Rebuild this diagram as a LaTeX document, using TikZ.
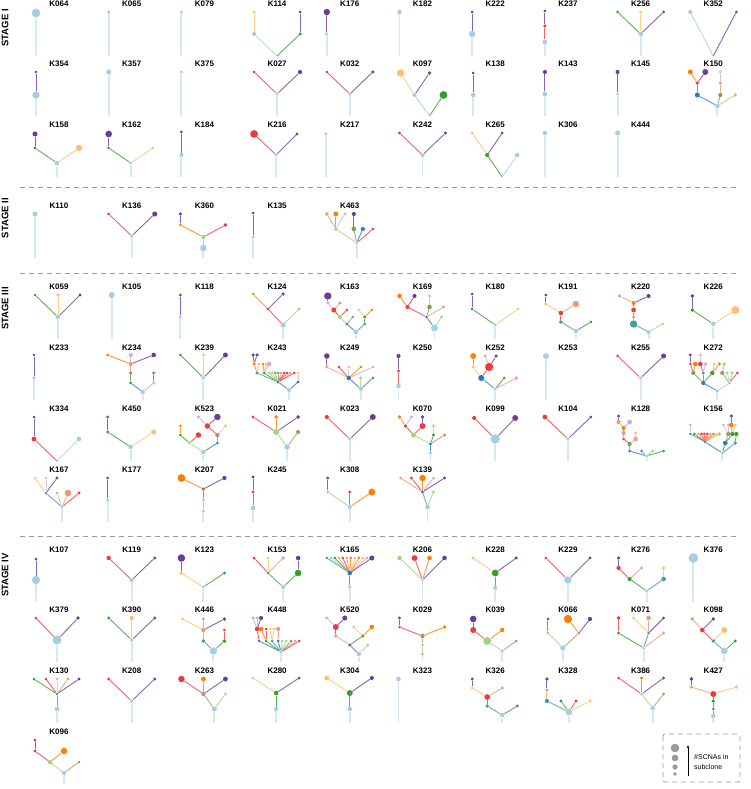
\documentclass[tikz,border=0pt]{standalone}
\usepackage{fontspec}
\setmainfont{Liberation Sans}
\usetikzlibrary{arrows.meta}

\definecolor{lb}{HTML}{A6CEE3}
\definecolor{db}{HTML}{2B7BBA}
\definecolor{lg}{HTML}{9FD67C}
\definecolor{gr}{HTML}{33A02C}
\definecolor{pk}{HTML}{F79A98}
\definecolor{rd}{HTML}{EC3B3E}
\definecolor{lo}{HTML}{FDBF6F}
\definecolor{or}{HTML}{FF7F00}
\definecolor{lp}{HTML}{C7ADD3}
\definecolor{pu}{HTML}{6A3D9A}
\definecolor{te}{HTML}{4A98A2}
\definecolor{ta}{HTML}{A8966A}
\definecolor{sa}{HTML}{E39C78}
\definecolor{ol}{HTML}{7E9A58}
\definecolor{mv}{HTML}{D6B6C4}
\definecolor{sepgray}{HTML}{9A9A9A}

\pgfdeclarelayer{edges}
\pgfsetlayers{edges,main}

\tikzset{
  lab/.style={font=\bfseries\fontsize{8}{9}\selectfont, inner sep=0pt},
  stagelab/.style={font=\bfseries\fontsize{9.5}{10}\selectfont, rotate=90, anchor=east, inner sep=0pt},
  clone/.style={circle, fill=#1, draw=none, inner sep=0pt},
  link/.style={draw=#1, line width=0.9pt, draw opacity=0.8},
  trunk/.style={draw=#1, line width=1.9pt, draw opacity=0.45},
  sep/.style={draw=sepgray, line width=0.8pt, dash pattern=on 5pt off 4pt},
  legtext/.style={font=\fontsize{7}{10}\selectfont, align=left, inner sep=0pt, anchor=west}
}

\def\gname{g}
% one panel: label, column, label y, germline x, clones name/x/y/colour/radius/parent
\newcommand{\subtree}[5]{%
  \begin{scope}[shift={({59+72.7*#2},#3)}]
    \node[lab] (#1) at (0,0) {#1};
    \coordinate (#1g) at (#4,52);
    \coordinate (#1o) at (#4,52);
    \foreach \nm/\px/\py/\cl/\rr/\up in {#5}{%
      \node[clone=\cl, minimum size={2.3*\rr}] (#1\nm) at (\px,\py) {};}
    \begin{pgfonlayer}{edges}
      \foreach \nm/\px/\py/\cl/\rr/\up in {#5}{%
        \edef\tmpup{\up}%
        \ifx\tmpup\gname \draw[trunk=\cl] (#1\up) -- (#1\nm);%
        \else \draw[link=\cl] (#1\up) -- (#1\nm);\fi}
    \end{pgfonlayer}
  \end{scope}}

\begin{document}
\begin{tikzpicture}[x=1pt,y=-1pt]
\useasboundingbox (0,0) rectangle (750,789);

% stage titles and separators
\node[stagelab] (stageI) at (5,9) {STAGE I};
\node[stagelab] (stageII) at (5,198) {STAGE II};
\node[stagelab] (stageIII) at (5,287) {STAGE III};
\node[stagelab] (stageIV) at (5,553) {STAGE IV};
\coordinate (sepAl) at (20,187); \coordinate (sepAr) at (737,187);
\coordinate (sepBl) at (20,273); \coordinate (sepBr) at (737,273);
\coordinate (sepCl) at (20,536); \coordinate (sepCr) at (737,536);
\draw[sep] (sepAl) -- (sepAr);
\draw[sep] (sepBl) -- (sepBr);
\draw[sep] (sepCl) -- (sepCr);

% stage I
\subtree{K064}{0}{4}{-23}{a/-23/9/lb/3.8/g}
\subtree{K065}{1}{4}{-23}{a/-23/8/lb/1.6/g}
\subtree{K079}{2}{4}{-23}{a/-23/8/lb/1.6/g}
\subtree{K114}{3}{4}{0}{a/-23/30/lb/1.8/o,b/-23/8/lo/1.3/a,c/23/30/gr/1.5/o,d/23/8/pu/1.3/c}
\subtree{K176}{4}{4}{-23}{a/-23/30/lb/1.6/g,b/-23/8/pu/2.8/a}
\subtree{K182}{5}{4}{-23}{a/-23/8/lb/2/g}
\subtree{K222}{6}{4}{-23}{a/-23/30/lb/2.8/g,b/-23/8/pu/1.3/a}
\subtree{K237}{7}{4}{-23}{a/-23/38/lb/2/g,b/-23/22/rd/1.5/a,c/-23/7/pu/1.3/b}
\subtree{K256}{8}{4}{0}{a/0/30/lb/2/g,b/-23/8/gr/1.3/a,c/0/8/lo/1.3/a,d/23/8/pu/1.3/a}
\subtree{K352}{9}{4}{0}{a/-23/8/lb/1.8/o,b/23/8/pu/1.3/o}
\subtree{K354}{0}{64}{-23}{a/-23/31/lb/3.2/g,b/-23/8/pu/1.3/a}
\subtree{K357}{1}{64}{-23}{a/-23/8/lb/2.2/g}
\subtree{K375}{2}{64}{-23}{a/-23/8/lb/1.4/g}
\subtree{K027}{3}{64}{0}{a/0/30/lb/1.6/g,b/-23/8/rd/1.3/a,c/23/8/pu/1.8/a}
\subtree{K032}{4}{64}{0}{a/0/30/lb/1.6/g,b/-23/8/rd/1.3/a,c/23/8/pu/1.5/a}
\subtree{K097}{5}{64}{7}{a/-8/31/lb/1.8/o,b/-22/9/lo/3.2/a,c/7/9/pu/1.6/a,d/21/31/gr/3.4/o}
\subtree{K138}{6}{64}{-22}{a/-22/31/lb/2/g,b/-22/9/pu/1.3/a}
\subtree{K143}{7}{64}{-23}{a/-23/30/lb/2/g,b/-23/8/pu/1.8/a}
\subtree{K145}{8}{64}{-23}{a/-23/30/lb/1.4/g,b/-23/8/pu/1.8/a}
\subtree{K150}{9}{64}{4}{a/4/42/lb/2/g,b/-16/31/db/2.2/a,c/-16/19/rd/1.6/b,d/-23/8/or/2.2/c,e/-8/8/pu/2.6/c,f/7/31/ol/1.8/a,h/7/19/sa/1.5/f,i/7/8/mv/1.3/h,j/22/31/lg/1.6/a}
\subtree{K158}{0}{125}{-2}{a/-2/38/lb/2/g,b/-24/23/gr/1.4/a,c/-24/9/pu/2.2/b,d/20/23/lo/2.8/a}
\subtree{K162}{1}{125}{-1}{a/-1/38/lb/1.5/g,b/-23/23/gr/1.3/a,c/-23/9/pu/2.9/b,d/21/23/lo/1.3/a}
\subtree{K184}{2}{125}{-23}{a/-23/30/lb/1.8/g,b/-23/7/pu/1.3/a}
\subtree{K216}{3}{125}{-1}{a/-1/30/lb/1.5/g,b/-23/9/rd/3.4/a,c/20/9/pu/1.4/a}
\subtree{K217}{4}{125}{-24}{a/-24/9/lb/1.5/g}
\subtree{K242}{5}{125}{0}{a/0/30/lb/1.8/g,b/-23/8/rd/1.4/a,c/23/8/pu/1.5/a}
\subtree{K265}{6}{125}{7}{a/-8/30/gr/1.8/o,b/-23/8/lo/1.3/a,c/7/8/pu/1.3/a,d/22/30/lb/2/o}
\subtree{K306}{7}{125}{-23}{a/-23/8/lb/2/g}
\subtree{K444}{8}{125}{-23}{a/-23/8/lb/2.2/g}

% stage II
\subtree{K110}{0}{206}{-24}{a/-24/8/lb/2.2/g}
\subtree{K136}{1}{206}{0}{a/0/30/lb/1.6/g,b/-23/8/rd/1.3/a,c/23/8/pu/2.2/a}
\subtree{K360}{2}{206}{-1}{a/-1/42/lb/2.8/g,b/-1/31/lg/1.8/a,c/-24/19/or/1.3/b,d/-24/8/pu/1.6/c,e/21/19/rd/1.7/b}
\subtree{K135}{3}{206}{-24}{a/-24/31/lb/1.6/g,b/-24/7/pu/1.3/a}
\subtree{K463}{4}{206}{7}{a/7/37/lb/1.4/g,b/-14/23/lg/1.7/a,c/-23/8/sa/1.7/b,d/-14/8/or/2.2/b,e/-5/8/mv/1.5/b,f/4/23/ol/2/a,h/4/8/pu/1.8/f,i/13/23/db/1.8/a,j/23/23/rd/1.3/a}

% stage III
\subtree{K059}{0}{287}{-1}{a/-1/30/lb/2/g,b/-24/8/gr/1.3/a,c/-1/8/lo/1.7/a,d/21/8/pu/1.4/a}
\subtree{K105}{1}{287}{-20}{a/-20/8/lb/2.6/g}
\subtree{K118}{2}{287}{-24}{a/-24/30/lb/1.6/g,b/-24/8/pu/1.3/a}
\subtree{K124}{3}{287}{6}{a/6/38/lb/2.2/g,b/-9/22/rd/1.4/a,c/-24/7/or/1.3/b,d/6/7/pu/1.6/b,e/22/22/lg/1.4/a}
\subtree{K163}{4}{287}{6}{a/6/45/lb/2/g,b/-3/37/db/1.3/a,c/15/37/te/1.4/a,d/-10/30/lg/1.8/b,e/3/30/ta/1.3/b,f/15/30/gr/1.4/c,h/-16/23/rd/2.2/d,i/-10/16/sa/1.5/h,j/-3/23/rd/1.3/d,k/-22/16/lp/1.5/h,l/-22/9/pu/3.2/k,m/9/23/lo/1.3/f,n/22/23/or/1.3/f}
\subtree{K169}{5}{287}{12}{a/12/41/lb/3/g,b/4/30/db/1.3/a,c/19/30/lg/1.4/a,d/-15/20/rd/1.8/b,e/7/20/ol/2/b,f/21/20/sa/1.5/b,h/-23/9/or/2/d,i/-8/9/pu/1.8/d,j/7/9/mv/1.4/e}
\subtree{K180}{6}{287}{0}{a/0/38/lb/1.5/g,b/-23/22/gr/1.3/a,c/-23/7/pu/1.3/b,d/23/22/lo/1.3/a}
\subtree{K191}{7}{287}{8}{a/8/44/lb/2/g,b/-7/35/te/1.7/a,c/23/35/gr/1.3/a,d/-7/26/rd/2/b,e/-22/17/lo/1.5/d,f/8/17/sa/2.8/d,h/-22/8/pu/1.3/e}
\subtree{K220}{8}{287}{8}{a/8/45/lb/1.8/g,b/-7/37/te/3.2/a,c/22/37/lg/1.3/a,d/-7/30/sa/1.5/b,e/-7/23/rd/2.1/d,f/-7/16/or/1.8/e,h/-21/9/sa/1.6/f,i/8/9/pu/1.8/f}
\subtree{K226}{9}{287}{0}{a/0/37/lb/2/g,b/-21/23/gr/1.7/a,c/-21/9/pu/1.7/b,d/22/23/lo/3.5/a}
\subtree{K233}{0}{348}{-25}{a/-25/30/lb/1.6/g,b/-25/7/pu/1.3/a}
\subtree{K234}{1}{348}{11}{a/11/44/lb/2/g,b/-1/35/db/1.3/a,c/-1/25/ol/1.7/b,d/-1/16/sa/1.8/c,e/-24/7/or/1.4/d,f/-1/7/mv/1.9/d,h/22/7/pu/2/d,i/22/35/lg/1.4/a,j/22/25/rd/1.3/i}
\subtree{K239}{2}{348}{-1}{a/-1/30/lb/1.6/g,b/-24/7/gr/1.3/a,c/-1/7/lo/1.4/a,d/21/7/pu/2.2/a}
\subtree{K243}{3}{348}{12}{a/12/42/lb/1.8/g,b/1/34/db/1.4/a,c/21/34/db/1.4/a,d/-20/25/te/1.6/b,e/-13/25/gr/1.3/b,f/-8/25/lg/1.3/b,h/-5/25/lg/1.3/b,i/-2/25/ta/1.3/b,j/1/25/ol/1.3/b,k/4/25/sa/1.3/b,l/7/25/rd/1.3/b,m/10/25/rd/1.3/b,n/13/25/pk/1.3/b,p/17/25/rd/1.3/b,q/21/25/lo/1.3/c,r/-23/16/or/1.6/d,s/-18/16/lo/1.4/d,t/-14/16/or/1.3/e,u/-11/16/lo/1.3/e,v/-8/16/lp/2/e,w/-24/7/pu/1.6/r,y/-20/7/pu/1.6/r}
\subtree{K249}{4}{348}{11}{a/11/41/lb/1.8/g,b/-1/30/db/2/a,c/11/30/lg/1.4/a,d/23/30/gr/1.3/a,e/-23/19/pk/1.5/b,f/-11/19/rd/1.3/b,h/-1/19/lo/1.3/b,i/11/19/or/1.3/b,j/23/19/lp/1.3/b,k/-23/8/pu/2.4/e}
\subtree{K250}{5}{348}{-24}{a/-24/38/lb/2/g,b/-24/23/rd/1.5/a,c/-24/8/pu/1.8/b}
\subtree{K252}{6}{348}{0}{a/0/41/lb/1.5/g,b/-14/30/db/2.6/a,c/-22/19/lo/1.5/b,d/-22/8/or/2.6/c,e/-6/19/rd/3.6/b,f/-10/8/lp/1.5/e,h/1/8/pu/1.5/e,i/9/30/gr/1.3/a,j/21/30/pk/1.7/a}
\subtree{K253}{7}{348}{-22}{a/-22/8/lb/2.6/g}
\subtree{K255}{8}{348}{0}{a/0/30/lb/1.6/g,b/-23/8/rd/1.3/a,c/23/8/pu/2.2/a}
\subtree{K272}{9}{348}{4}{a/4/43/lb/1.6/g,b/-10/35/db/1.8/a,c/16/35/lb/1.5/a,d/-20/25/ol/1.8/b,e/-10/25/te/1.4/b,f/-1/25/gr/1.9/b,h/9/25/ta/1.9/c,i/14/25/lg/1.4/c,j/19/25/lg/1.4/c,k/24/25/rd/1.3/c,l/-23/16/rd/1.3/d,m/-18/16/or/2/d,n/-13/16/rd/2/e,p/-8/16/lp/1.7/e,q/1/16/lo/1.4/f,r/6/16/or/1.5/f,s/11/16/sa/1.4/h,t/-23/7/pu/1.4/l,u/-13/7/lp/1.3/n}
\subtree{K334}{0}{409}{-2}{a/-25/30/rd/2.1/o,b/-25/8/pu/1.3/a,c/20/30/lb/2/o}
\subtree{K450}{1}{409}{-1}{a/-1/38/lb/2/g,b/-24/23/gr/1.4/a,c/-24/8/pu/1.3/b,d/22/23/lo/2.2/a}
\subtree{K523}{2}{409}{-1}{a/-1/43/lb/2/g,b/-15/34/lg/1.3/a,c/-24/26/gr/1.3/b,d/-24/17/or/1.3/c,e/-6/26/rd/2.4/b,f/13/34/db/1.3/a,h/13/26/ta/1.9/f,i/3/17/rd/2.4/h,j/21/17/lo/1.4/h,k/-6/8/lp/1.5/i,l/13/8/pu/2.8/i}
\subtree{K021}{3}{409}{10}{a/10/38/lb/2.4/g,b/-1/23/lg/2.6/a,c/21/23/ta/1.8/a,d/-24/8/rd/1.4/b,e/-1/8/or/1.7/b,f/21/8/pu/1.7/b}
\subtree{K023}{4}{409}{0}{a/0/30/lb/1.6/g,b/-23/8/rd/1.8/a,c/23/8/pu/2.6/a}
\subtree{K070}{5}{409}{8}{a/8/44/lb/1.7/g,b/8/35/db/1.4/a,c/-9/26/lg/2.2/b,d/11/26/gr/1.4/b,e/22/26/ta/1.5/b,f/-17/17/rd/1.6/c,h/0/17/rd/2.6/c,i/11/17/lo/1.7/d,j/-23/8/or/1.6/f,k/-11/8/lp/1.4/f,l/0/8/pu/1.6/h}
\subtree{K099}{6}{409}{0}{a/0/30/lb/4/g,b/-21/9/rd/1.8/a,c/20/9/pu/2.6/a}
\subtree{K104}{7}{409}{0}{a/0/30/lb/1.6/g,b/-23/8/rd/2.1/a,c/23/8/pu/1.3/a}
\subtree{K128}{8}{409}{6}{a/6/47/lb/1.6/g,b/-11/42/db/1.3/a,c/1/42/te/1.3/a,d/12/42/lg/1.4/a,e/23/42/gr/1.3/a,f/-11/35/ol/1.8/b,h/-17/30/rd/1.3/f,i/-5/30/pk/2/f,j/-5/24/lo/1.4/i,k/-17/24/sa/1.8/h,l/-17/19/or/1.8/k,m/-22/13/sa/1.8/l,n/-11/13/lp/2.1/l,p/-22/7/pu/1.4/m}
\subtree{K156}{9}{409}{9}{a/9/44/lb/1.5/g,b/12/34/db/2/a,c/22/34/te/1.6/a,d/-8/33/db/1.2/a,e/-23/25/te/1.3/d,f/-19/25/gr/1.3/d,h/-15/25/pk/1.3/d,i/-12/25/rd/1.3/d,j/-9/25/rd/1.3/d,k/-6/25/rd/1.3/d,l/-3/25/pk/1.3/d,m/0/25/or/1.3/d,n/3/25/lo/1.3/d,p/6/25/lg/1.6/d,q/15/25/ta/1.9/b,r/19/25/gr/1.8/b,s/23/25/gr/1.8/c,t/-23/16/lp/1.3/e,u/10/16/mv/1.3/q,v/15/16/lp/1.3/q,w/18/16/or/2/r,y/22/16/lo/1.3/r,z/18/7/pu/1.5/w}
\subtree{K167}{0}{470}{3}{a/3/37/lb/1.5/g,b/-13/23/te/1.3/a,c/-2/23/lg/1.4/a,d/9/23/sa/2.9/a,e/20/23/rd/1.5/a,f/-24/8/lo/1.3/b,h/-13/8/mv/1.3/b,i/-2/8/pu/1.4/b}
\subtree{K177}{1}{470}{-24}{a/-24/30/lb/1.6/g,b/-24/8/pu/1.3/a}
\subtree{K207}{2}{470}{-1}{a/-1/41/lb/1.6/g,b/-1/30/lg/1.4/a,c/-1/19/rd/1.5/b,d/-23/8/or/3.4/c,e/20/8/pu/1.9/c}
\subtree{K245}{3}{470}{-24}{a/-24/38/lb/2.1/g,b/-24/22/rd/1.4/a,c/-24/7/pu/1.4/b}
\subtree{K308}{4}{470}{0}{a/0/37/lb/1.8/g,b/-22/22/lg/1.3/a,c/-22/8/pu/1.4/b,d/0/22/rd/1.4/a,e/22/22/or/3/a}
\subtree{K139}{5}{470}{5}{a/5/37/lb/2/g,b/0/22/te/1.6/a,c/11/22/lg/1.4/a,d/-22/8/sa/1.3/b,e/-11/8/rd/1.4/b,f/0/8/or/2.8/b,h/11/8/sa/1.3/b,i/22/8/pu/1.4/b}

% stage IV
\subtree{K107}{0}{550}{-23}{a/-23/30/lb/3.6/g,b/-23/9/pu/1.3/a}
\subtree{K119}{1}{550}{0}{a/0/30/lb/1.8/g,b/-23/8/rd/1.9/a,c/23/8/pu/1.4/a}
\subtree{K123}{2}{550}{-1}{a/-1/37/lb/1.5/g,b/-23/23/lo/1.7/a,c/-23/8/pu/3.3/b,d/20/23/gr/1.4/a}
\subtree{K153}{3}{550}{6}{a/6/37/lb/1.8/g,b/-9/23/te/1.3/a,c/21/23/gr/2.9/a,d/-23/8/rd/1.4/b,e/-9/8/lo/1.4/b,f/6/8/sa/1.5/b,h/21/8/pu/2/c}
\subtree{K165}{4}{550}{0}{a/0/37/lb/1.6/g,b/0/23/db/2/a,c/-23/8/te/1.3/b,d/-19/8/lg/1.3/b,e/-15/8/gr/1.3/b,f/-11/8/pk/1.3/b,h/-7/8/rd/1.3/b,i/-3/8/pk/1.3/b,j/1/8/or/1.3/b,k/5/8/lo/1.3/b,l/9/8/or/1.3/b,m/13/8/lo/1.3/b,n/17/8/lp/1.3/b,p/22/8/pu/2.2/b}
\subtree{K206}{5}{550}{0}{a/0/30/lb/1.5/g,b/-23/8/lg/2/a,c/-8/8/rd/2.5/a,d/7/8/or/2/a,e/22/8/pu/2/a}
\subtree{K228}{6}{550}{0}{a/0/38/lb/1.8/g,b/0/23/gr/3/a,c/-22/8/lo/1.5/b,d/21/8/pu/1.5/b}
\subtree{K229}{7}{550}{0}{a/0/30/lb/3.2/g,b/-22/8/rd/1.3/a,c/22/8/pu/1.4/a}
\subtree{K276}{8}{550}{6}{a/6/41/lb/1.5/g,b/-11/29/gr/1.8/a,c/-22/18/rd/1.9/b,d/-22/8/pu/1.6/c,e/1/18/sa/1.4/b,f/23/29/te/2/a,h/23/18/lo/1.5/f}
\subtree{K376}{9}{550}{-20}{a/-20/8/lb/4.2/g}
\subtree{K379}{0}{610}{-2}{a/-2/30/lb/3.9/g,b/-23/8/rd/1.3/a,c/19/8/pu/1.7/a}
\subtree{K390}{1}{610}{0}{a/0/30/lb/1.7/g,b/-23/8/gr/1.4/a,c/0/8/lo/1.9/a,d/23/8/pu/1.4/a}
\subtree{K446}{2}{610}{9}{a/9/41/lb/3.2/g,b/-1/31/te/1.7/a,c/-1/20/sa/1.9/b,d/-22/9/lo/1.4/c,e/-1/9/sa/1.4/c,f/20/9/pu/1.6/c,h/20/31/gr/1.7/a,i/20/20/rd/1.3/h}
\subtree{K448}{3}{610}{4}{a/4/42/lb/1.6/g,b/-18/31/db/1.3/a,c/-11/31/gr/1.3/a,d/-5/31/te/1.3/a,e/1/31/db/1.3/a,f/5/31/lg/1.3/a,h/9/31/lg/1.3/a,i/14/31/ol/1.3/a,j/18/31/pk/1.3/a,k/22/31/rd/1.3/a,l/-20/19/rd/2/b,m/-16/19/or/2/c,n/-11/19/rd/1.3/c,p/-7/19/lo/1.3/d,q/-3/19/lo/1.3/d,r/1/19/sa/1.8/e,s/-24/8/lp/1.5/l,t/-20/8/lp/1.5/l,u/-16/8/pu/1.8/l}
\subtree{K520}{4}{610}{9}{a/9/44/lb/2/g,b/0/35/db/1.5/a,c/18/35/lg/1.4/a,d/-14/26/pk/1.7/b,e/13/26/gr/1.4/b,f/-14/17/rd/2.6/d,h/4/17/lo/1.4/e,i/22/17/or/2/e,j/-23/8/lp/1.4/f,k/-5/8/pu/2.2/f}
\subtree{K029}{5}{610}{0}{a/0/44/lb/1.6/g,b/0/35/lg/1.3/a,c/0/26/ta/2/b,d/-23/17/rd/1.3/c,e/-23/8/pu/1.4/d,f/22/17/or/1.6/c}
\subtree{K039}{6}{610}{7}{a/7/41/lb/1.6/g,b/-8/31/lg/3.4/a,c/-22/20/rd/2.6/b,d/-22/9/pu/2.9/c,e/7/20/or/1.9/b,f/21/31/ta/1.3/a}
\subtree{K066}{7}{610}{-5}{a/-5/38/lb/2.3/g,b/-20/23/lg/1.3/a,c/-20/9/rd/1.4/b,d/11/23/ta/1.4/a,e/0/9/or/3.6/d,f/22/9/pu/1.9/d}
\subtree{K071}{8}{610}{3}{a/3/38/lb/1.6/g,b/-22/23/gr/1.4/a,c/-22/8/rd/1.7/b,d/8/23/te/1.3/a,e/-7/8/lo/1.4/d,f/8/8/sa/2/d,h/23/8/pu/1.4/d,i/23/23/sa/1.4/a}
\subtree{K098}{9}{610}{11}{a/11/41/lb/2.9/g,b/0/31/te/1.7/a,c/22/31/gr/1.4/a,d/-11/20/rd/2/b,e/11/20/lo/2.6/b,f/-21/9/sa/1.6/d,h/0/9/pu/1.6/d}
\subtree{K130}{0}{671}{-2}{a/-2/38/lb/2.1/g,b/-2/23/te/1.3/a,c/-25/8/gr/1.3/b,d/-13/8/rd/1.3/b,e/-2/8/lo/1.5/b,f/9/8/sa/1.4/b,h/20/8/pu/1.4/b}
\subtree{K208}{1}{671}{0}{a/0/30/lb/1.7/g,b/-23/8/rd/1.4/a,c/23/8/pu/1.4/a}
\subtree{K263}{2}{671}{10}{a/10/38/lb/2.1/g,b/-1/23/ta/1.8/a,c/21/23/lg/1.3/a,d/-23/8/rd/2.8/b,e/-1/8/or/2.1/b,f/21/8/pu/2.1/b}
\subtree{K280}{3}{671}{-1}{a/-1/38/lb/1.9/g,b/-1/22/gr/2/a,c/-24/7/lo/1.4/b,d/22/7/pu/1.4/b}
\subtree{K304}{4}{671}{0}{a/0/38/lb/2/g,b/0/22/gr/2.6/a,c/-23/7/lo/2.1/b,d/22/7/pu/1.8/b}
\subtree{K323}{5}{671}{-24}{a/-24/8/lb/2/g}
\subtree{K326}{6}{671}{7}{a/7/44/lb/2/g,b/-8/35/te/1.6/a,c/-8/26/rd/2.5/b,d/-23/17/lo/1.4/c,e/-23/8/pu/1.4/d,f/7/17/sa/1.4/c,h/22/35/gr/1.4/a}
\subtree{K328}{7}{671}{1}{a/1/41/lb/3/g,b/-21/30/te/1.9/a,c/-21/19/sa/1.5/b,d/-21/8/pu/1.6/c,e/-7/30/gr/1.4/a,f/8/30/rd/1.4/a,h/22/30/lo/1.4/a}
\subtree{K386}{8}{671}{12}{a/12/37/lb/2/g,b/1/23/lg/1.4/a,c/-22/7/rd/1.3/b,d/1/7/or/1.5/b,e/23/7/pu/1.4/b,f/23/23/ta/1.4/a}
\subtree{K427}{9}{671}{0}{a/0/45/lb/2/g,b/0/38/te/1.4/a,c/0/30/gr/1.6/b,d/0/23/rd/2.6/c,e/-22/16/sa/1.5/d,f/-22/8/pu/1.7/e,h/23/16/lo/1.7/d}
\subtree{K096}{0}{732}{5}{a/5/41/lb/1.8/g,b/-9/30/lg/2/a,c/-24/19/rd/1.4/b,d/-24/8/pu/1.3/c,e/5/19/or/2.8/b,f/20/30/ta/1.3/a}

% legend
\draw[sep, rounded corners=2pt] (663,734) rectangle (740,782);
\node[clone=sepgray, minimum size=8.6] (legA) at (675,748) {};
\node[clone=sepgray, minimum size=6.6] (legB) at (675,758) {};
\node[clone=sepgray, minimum size=5.2] (legC) at (675,767) {};
\node[clone=sepgray, minimum size=3.8] (legD) at (675,774) {};
\coordinate (legup) at (688,745);
\coordinate (legdown) at (688,776);
\draw[line width=0.6pt, -{Stealth[length=3.5pt,width=2.5pt]}] (legdown) -- (legup);
\node[legtext] (legtxt) at (694,762) {\#SCNAs in\\subclone};
\end{tikzpicture}
\end{document}
